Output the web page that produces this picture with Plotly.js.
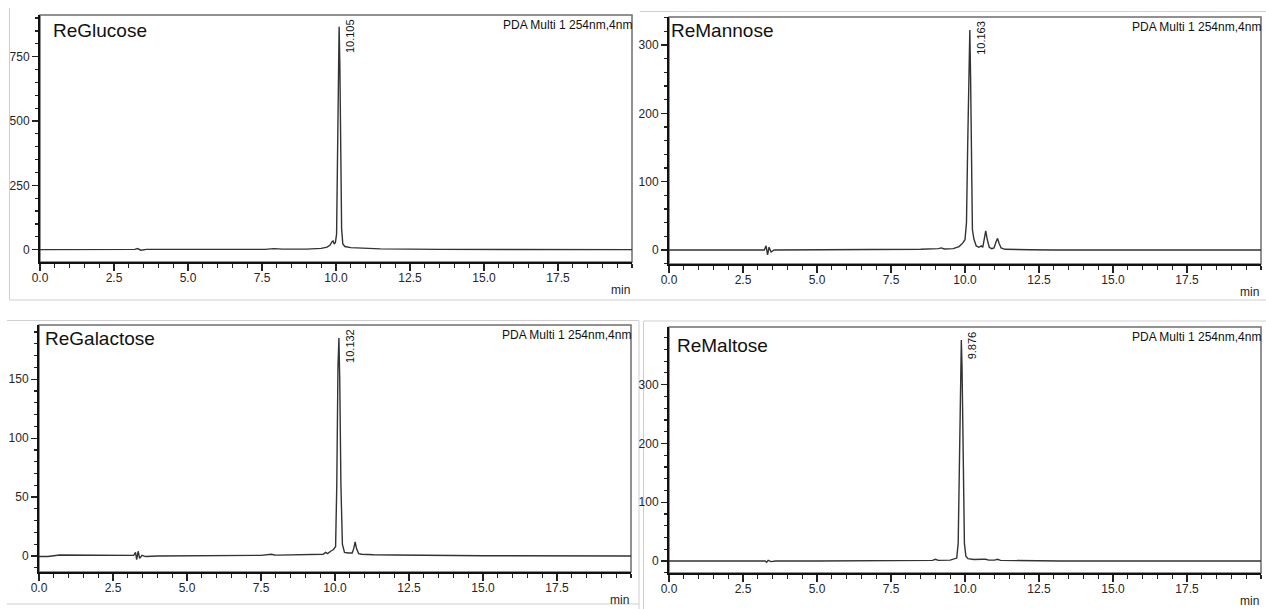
<!DOCTYPE html>
<html>
<head>
<meta charset="utf-8">
<script src="https://cdn.plot.ly/plotly-3.0.1.min.js"></script>
<style>
  html, body { margin: 0; padding: 0; background: #ffffff; }
  #chart { width: 1266px; height: 609px; }
</style>
</head>
<body>
<div id="chart"></div>
<script>
// ---- Data ----------------------------------------------------------------
const sampleNames = ['ReGlucose', 'ReMannose', 'ReGalactose', 'ReMaltose'];
const peakTimes = [10.105, 10.163, 10.132, 9.876];
const detectorText = 'PDA Multi 1 254nm,4nm';
const timeUnit = 'min';
const timeTickValues = [0, 2.5, 5, 7.5, 10, 12.5, 15, 17.5];
const timeTickLabels = ['0.0', '2.5', '5.0', '7.5', '10.0', '12.5', '15.0', '17.5'];

const glucoseTime = [0, 0.5, 0.8, 1.5, 3.2, 3.3, 3.4, 3.6, 7.6, 7.9, 8.2, 9.0, 9.5, 9.7, 9.8, 9.86, 9.9, 9.94, 9.98,
  10.02, 10.05, 10.08, 10.105, 10.13, 10.16, 10.19, 10.23, 10.3, 10.5, 10.7, 10.9, 11.5, 12.5, 13.5, 20];
const glucoseSignal = [0, 0, 1, 1, 1, 4, -2, 1, 1, 4, 2, 2, 5, 10, 18, 30, 34, 22, 28,
  60, 300, 700, 866, 720, 330, 80, 22, 12, 8, 7, 4, 3, 2, 1, 0];

const mannoseTime = [0, 0.5, 0.8, 2.0, 3.0, 3.22, 3.28, 3.33, 3.38, 3.45, 3.55, 3.7, 5.0, 7.5, 8.5, 9.1, 9.2, 9.3, 9.6,
  9.8, 9.92, 10.0, 10.05, 10.09, 10.13, 10.163, 10.19, 10.22, 10.25, 10.3, 10.38, 10.47, 10.55, 10.6, 10.65, 10.7,
  10.75, 10.82, 10.9, 10.98, 11.05, 11.1, 11.15, 11.22, 11.35, 11.6, 12.2, 13, 20];
const mannoseSignal = [0, 0, 1, 1, 0.5, 0, 6, -7, 4, -3, 0, 0, 0.3, 0.5, 1, 2, 3, 1.5, 2,
  5, 10, 15, 40, 150, 290, 322, 250, 90, 30, 16, 6, 4, 6, 4, 14, 28,
  16, 4, 2, 3, 12, 17, 10, 3, 1, 0.5, 0.3, 0, 0];

const galactoseTime = [0, 0.3, 0.7, 1.2, 2.5, 3.2, 3.26, 3.3, 3.35, 3.4, 3.48, 3.6, 4.0, 5.0, 7.5, 7.85, 7.95, 8.1,
  8.6, 9.1, 9.2, 9.4, 9.6, 9.68, 9.75, 9.85, 9.95, 10.02, 10.06, 10.1, 10.132, 10.16, 10.2, 10.25, 10.32, 10.45,
  10.58, 10.63, 10.68, 10.73, 10.8, 10.9, 11.3, 12.0, 13.0, 15.0, 20];
const galactoseSignal = [-0.5, -0.5, 0.8, 0.8, 0.3, 0.5, 3, -3, 4, -2, 0.5, -0.5, 0, 0.3, 0.5, 1.5, 0.8, 0.7,
  1, 1, 1.5, 1, 1.5, 3, 2, 4, 5.5, 8, 60, 160, 185, 150, 60, 10, 3, 2.5,
  2.5, 6, 12, 6, 2, 1.5, 1, 0.8, 0.5, 0.2, 0];

const maltoseTime = [0, 0.5, 0.9, 1.5, 3.0, 3.25, 3.3, 3.35, 3.45, 3.6, 5.0, 7.8, 7.9, 8.0, 8.9, 9.0, 9.1, 9.5, 9.65,
  9.72, 9.77, 9.81, 9.85, 9.876, 9.9, 9.94, 9.98, 10.03, 10.1, 10.3, 10.5, 10.6, 10.7, 10.8, 11.0, 11.1, 11.2,
  11.5, 12.5, 13.2, 20];
const maltoseSignal = [0, 0, 1, 1, 0, 0, -2, 1, -1, 0, 0, 0.5, 1.5, 0.5, 1, 3, 1, 1.5, 3,
  5, 30, 200, 350, 376, 330, 150, 30, 8, 4, 2.5, 2, 3, 3, 1.5, 1.5, 3, 1,
  0.8, 0.5, 0, 0];

const seriesTime = [glucoseTime, mannoseTime, galactoseTime, maltoseTime];
const seriesSignal = [glucoseSignal, mannoseSignal, galactoseSignal, maltoseSignal];

// ---- Page geometry (pixels) --------------------------------------------
const W = 1266, H = 609;
const fx = p => p / W;
const fy = p => 1 - p / H;

// plot box of each panel: left, right, top, bottom; signal axis setup
const panels = [
  { l: 40,  r: 632,  t: 15,  b: 262, yRange: [-48, 912],   yStep: 250, yMinor: 50, titleX: 51,  titleY: 30 },
  { l: 669, r: 1261, t: 17,  b: 264, yRange: [-20.5, 341], yStep: 100, yMinor: 20, titleX: 669, titleY: 30 },
  { l: 39,  r: 631,  t: 325, b: 572, yRange: [-13.6, 196], yStep: 50,  yMinor: 10, titleX: 43,  titleY: 338.5 },
  { l: 669, r: 1261, t: 327, b: 573, yRange: [-20.4, 398], yStep: 100, yMinor: 20, titleX: 675, titleY: 345 }
];

const FONT = 'Liberation Sans, Arial, sans-serif';
const INK = '#262626';

const traces = [];
const layout = {
  width: W, height: H,
  margin: { l: 0, r: 0, t: 0, b: 0, pad: 0 },
  paper_bgcolor: '#ffffff',
  plot_bgcolor: '#ffffff',
  showlegend: false,
  font: { family: FONT, size: 12, color: INK },
  annotations: [],
  shapes: []
};

panels.forEach((p, i) => {
  const n = i === 0 ? '' : String(i + 1);
  const xa = 'x' + n, ya = 'y' + n;

  traces.push({
    type: 'scatter', mode: 'lines',
    x: seriesTime[i], y: seriesSignal[i],
    xaxis: xa, yaxis: ya,
    line: { color: '#333333', width: 1.4 },
    hoverinfo: 'skip'
  });

  layout['xaxis' + n] = {
    domain: [fx(p.l), fx(p.r)],
    anchor: ya,
    range: [0, 20],
    tickmode: 'array',
    tickvals: timeTickValues,
    ticktext: timeTickLabels,
    ticks: 'outside', ticklen: 7, tickwidth: 1.2, tickcolor: '#222',
    ticklabelstandoff: -3,
    minor: { ticks: 'outside', tick0: 0, dtick: 0.5, ticklen: 4, tickwidth: 1.2, tickcolor: '#222', showgrid: false },
    showline: true, linecolor: '#111', linewidth: 2,
    showgrid: false, zeroline: false,
    tickfont: { family: FONT, size: 12, color: INK },
    fixedrange: true
  };
  layout['yaxis' + n] = {
    domain: [fy(p.b), fy(p.t)],
    anchor: xa,
    range: p.yRange,
    tickmode: 'linear', tick0: 0, dtick: p.yStep,
    ticks: 'outside', ticklen: 6, tickwidth: 1.2, tickcolor: '#222',
    minor: { ticks: 'outside', tick0: 0, dtick: p.yMinor, ticklen: 3, tickwidth: 1.2, tickcolor: '#222', showgrid: false },
    showline: true, linecolor: '#111', linewidth: 2,
    showgrid: false, zeroline: false,
    tickfont: { family: FONT, size: 12, color: INK },
    fixedrange: true
  };

  // grey plot box (top and right edges)
  layout.shapes.push({
    type: 'rect', xref: xa + ' domain', yref: ya + ' domain',
    x0: 0, x1: 1, y0: 0, y1: 1,
    line: { color: '#6e6e6e', width: 1.5 }, layer: 'below'
  });

  // sample name
  layout.annotations.push({
    xref: 'paper', yref: 'paper', x: fx(p.titleX), y: fy(p.titleY),
    xanchor: 'left', yanchor: 'middle', showarrow: false,
    text: sampleNames[i], font: { family: FONT, size: 19, color: '#111' }
  });
  // detector channel
  layout.annotations.push({
    xref: xa + ' domain', yref: ya + ' domain', x: 1, y: 1,
    xanchor: 'right', yanchor: 'top', xshift: 2, yshift: -1, showarrow: false,
    text: detectorText, font: { family: FONT, size: 12, color: '#111' }
  });
  // retention time of the main peak
  layout.annotations.push({
    xref: xa, yref: ya + ' domain', x: peakTimes[i], y: 1,
    xanchor: 'left', yanchor: 'top', xshift: 3, yshift: -2, showarrow: false, textangle: -90,
    text: peakTimes[i].toFixed(3), font: { family: FONT, size: 11, color: '#111' }
  });
  // time unit
  layout.annotations.push({
    xref: xa + ' domain', yref: 'paper', x: 1, y: fy(p.b + 28),
    xanchor: 'right', yanchor: 'middle', showarrow: false,
    text: timeUnit, font: { family: FONT, size: 12, color: INK }
  });
});

// light frames around each chromatogram
const frame = { color: '#cfcfcf', width: 1 };
const seg = (x0, y0, x1, y1) => ({ type: 'line', xref: 'paper', yref: 'paper',
  x0: fx(x0), y0: fy(y0), x1: fx(x1), y1: fy(y1), line: frame, layer: 'below' });
layout.shapes.push(
  seg(9.5, 8, 9.5, 300),      // left, top-left chart
  seg(9.5, 300, 1266, 300),   // bottom of the upper row
  seg(640, 11.5, 1266, 11.5), // top, top-right chart
  seg(7, 320.5, 639, 320.5),  // top, bottom-left chart
  seg(7, 604, 639, 604),      // bottom, bottom-left chart
  seg(639, 320.5, 639, 609),  // right, bottom-left chart
  seg(643.5, 321, 1266, 321), // top, bottom-right chart
  seg(643.5, 321, 643.5, 609) // left, bottom-right chart
);

Plotly.newPlot('chart', traces, layout, { staticPlot: true, displayModeBar: false });
</script>
</body>
</html>
